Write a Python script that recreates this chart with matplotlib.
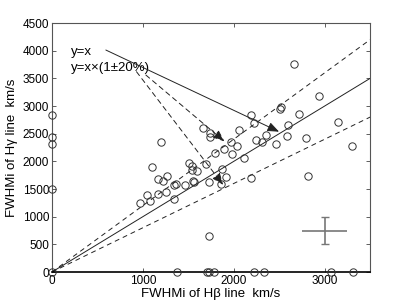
import matplotlib
matplotlib.use('Agg')
import matplotlib.pyplot as plt

plt.rcParams['font.family'] = ['Liberation Sans', 'DejaVu Sans']

# FWHMi of Hbeta (x) and Hgamma (y), km/s
fwhm_hb = [2516, 2505, 2187, 2220, 2718, 2599, 2586, 2791, 2349, 2242,
           2308, 2469, 2821, 1201, 1663, 1736, 1736, 2057, 1975, 2030,
           1898, 1793, 1984, 2112, 1104, 1503, 1538, 1544, 1601, 1700,
           1876, 1264, 1168, 1220, 1370, 1344, 1469, 1555, 1566, 1727,
           1915, 1860, 2190, 1041, 1077, 1168, 1253, 1344, 967,
           2659, 2934, 3146, 3300, 1729,
           # Hgamma only (x = 0)
           0, 0, 0, 0, 0,
           # Hbeta only (y = 0)
           1381, 1707, 1729, 1784, 2223, 2333, 3073, 3311]
fwhm_hg = [2988, 2941, 2838, 2702, 2850, 2657, 2463, 2416, 2472, 2386,
           2346, 2308, 1735, 2344, 2597, 2516, 2434, 2566, 2355, 2281,
           2219, 2156, 2129, 2069, 1903, 1965, 1907, 1838, 1829, 1948,
           1858, 1735, 1677, 1636, 1596, 1581, 1569, 1636, 1630, 1618,
           1713, 1590, 1704, 1383, 1292, 1406, 1437, 1316, 1256,
           3759, 3175, 2716, 2283, 651,
           2838, 2440, 2313, 1500, 0,
           0, 0, 0, 0, 0, 0, 0, 0]

ratio_lines = [1.0, 1.2, 0.8]
xmax, ymax = 3500, 4500
x_ticks = [0, 1000, 2000, 3000]
y_ticks = list(range(0, 4501, 500))

# typical error
err_x, err_y, err_dx, err_dy = 3000, 750, 250, 250

fig = plt.figure(figsize=(4.09, 3.07), dpi=100)
ax = fig.add_axes([0.127, 0.114, 0.778, 0.811])

xx = [0, xmax]
for r in ratio_lines:
    ls = '-' if r == 1.0 else (0, (5, 4))
    ax.plot(xx, [x * r for x in xx], color='#222222', lw=0.7, linestyle=ls)

ax.plot(fwhm_hb, fwhm_hg, 'o', mfc='none', mec='#333333', mew=0.7,
        ms=5.3, clip_on=False, zorder=3)

# typical error bars
ax.errorbar(err_x, err_y, yerr=err_dy, color='#777777', lw=1.2,
            capsize=3, capthick=1.0)
ax.errorbar(err_x, err_y, xerr=err_dx, color='#777777', lw=1.2, capsize=0)

# labels with arrows
ax.text(205, 3985, 'y=x', fontsize=9.5, va='center', ha='left')
ax.text(205, 3680, 'y=x\u00d7(1\u00b120%)', fontsize=9.5, va='center', ha='left')
head = '-|>,head_length=0.7,head_width=0.28'
ax.annotate('', xy=(2498, 2536), xytext=(593, 4012),
            arrowprops=dict(arrowstyle=head, color='#222222', lw=0.7,
                            shrinkA=0, shrinkB=0))
ax.annotate('', xy=(1898, 2360), xytext=(1033, 3560),
            arrowprops=dict(arrowstyle=head, color='#222222', lw=0.7,
                            ls=(0, (5, 4)), shrinkA=0, shrinkB=0))
ax.annotate('', xy=(1883, 1575), xytext=(930, 3620),
            arrowprops=dict(arrowstyle=head, color='#222222', lw=0.7,
                            ls=(0, (5, 4)), shrinkA=0, shrinkB=0))

ax.set_xlim(0, xmax)
ax.set_ylim(0, ymax)
ax.set_xticks(x_ticks)
ax.set_yticks(y_ticks)
ax.tick_params(direction='in', top=True, right=True, length=3,
               width=0.6, labelsize=8.5, pad=2, color='#444444')
for side, sp in ax.spines.items():
    sp.set_color('#555555')
    sp.set_linewidth(0.8)
ax.spines['bottom'].set_color('black')
ax.spines['bottom'].set_linewidth(1.2)

ax.set_xlabel('FWHMi of H\u03b2 line  km/s', fontsize=9.5, labelpad=1)
ax.set_ylabel('FWHMi of H\u03b3 line  km/s', fontsize=9.5, labelpad=3)

fig.savefig('out.png', dpi=100)
